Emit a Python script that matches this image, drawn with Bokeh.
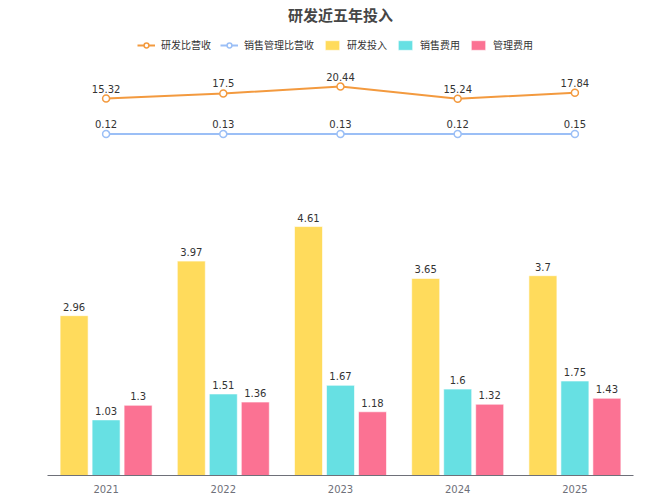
from bokeh.plotting import figure
from bokeh.models import ColumnDataSource, Range1d, FactorRange, LabelSet, Legend, LegendItem
from bokeh.core.properties import value
from bokeh.transform import dodge
from bokeh.embed import file_html
from bokeh.resources import INLINE

years = ["2021", "2022", "2023", "2024", "2025"]
rd_ratio = [15.32, 17.5, 20.44, 15.24, 17.84]
sm_ratio = [0.12, 0.13, 0.13, 0.12, 0.15]
rd_invest = [2.96, 3.97, 4.61, 3.65, 3.7]
sales_exp = [1.03, 1.51, 1.67, 1.6, 1.75]
mgmt_exp = [1.3, 1.36, 1.18, 1.32, 1.43]

def fmt(v):
    return ("%g" % v)

src = ColumnDataSource(dict(
    year=years,
    rd_ratio=rd_ratio, sm_ratio=sm_ratio,
    rd_invest=rd_invest, sales_exp=sales_exp, mgmt_exp=mgmt_exp,
    rd_ratio_t=[fmt(v) for v in rd_ratio],
    sm_ratio_t=[fmt(v) for v in sm_ratio],
    rd_invest_t=[fmt(v) for v in rd_invest],
    sales_exp_t=[fmt(v) for v in sales_exp],
    mgmt_exp_t=[fmt(v) for v in mgmt_exp],
))

FONT = "DejaVu Sans"
CJK = "Noto Sans CJK SC"

WIDTH, HEIGHT = 667, 500
TOP = 24
BOT = 25
FH = HEIGHT - TOP - BOT
# frame spans page y TOP..475; bars: 54 px per unit; lines: zero at y=133.9, 2.34 px per unit
LINE_START = -(HEIGHT - BOT - 133.9) / 2.34

p = figure(x_range=FactorRange(factors=years), y_range=Range1d(0, FH / 54.0),
           width=WIDTH, height=HEIGHT,
           min_border_left=47, min_border_right=34, min_border_top=TOP, min_border_bottom=BOT,
           y_axis_location=None, output_backend="svg", toolbar_location=None,
           title="研发近五年投入")
p.extra_y_ranges = {"line": Range1d(LINE_START, LINE_START + FH / 2.34)}
p.outline_line_color = None
p.xgrid.grid_line_color = None
p.ygrid.grid_line_color = None
p.background_fill_color = "white"
p.border_fill_color = "white"

p.title.align = "center"
p.title.text_font = CJK
p.title.text_font_size = "15px"
p.title.text_font_style = "bold"
p.title.text_color = "#464646"
p.title.standoff = 0
p.title.offset = 0

ax = p.xaxis[0]
ax.axis_line_color = "#6e7079"
ax.major_tick_line_color = None
ax.minor_tick_line_color = None
ax.major_label_text_font = FONT
ax.major_label_text_font_size = "10px"
ax.major_label_text_color = "#6e7079"
ax.major_label_standoff = 3

YEL, CYA, PNK = "#ffdb5c", "#67e0e3", "#fb7293"
ORG, BLU = "#f39a3f", "#9bbff6"
W = 0.239
OFF = 0.273

b1 = p.vbar(x=dodge("year", -OFF, range=p.x_range), top="rd_invest", width=W, source=src,
            fill_color=YEL, line_color="white", line_alpha=0.6, line_width=1)
b2 = p.vbar(x=dodge("year", 0, range=p.x_range), top="sales_exp", width=W, source=src,
            fill_color=CYA, line_color="white", line_alpha=0.6, line_width=1)
b3 = p.vbar(x=dodge("year", OFF, range=p.x_range), top="mgmt_exp", width=W, source=src,
            fill_color=PNK, line_color="white", line_alpha=0.6, line_width=1)

l1 = p.line(x="year", y="rd_ratio", source=src, line_color=ORG, line_width=2, y_range_name="line")
s1 = p.scatter(x="year", y="rd_ratio", source=src, size=7, fill_color="white", line_color=ORG,
               line_width=1.5, y_range_name="line")
l2 = p.line(x="year", y="sm_ratio", source=src, line_color=BLU, line_width=2, y_range_name="line")
s2 = p.scatter(x="year", y="sm_ratio", source=src, size=7, fill_color="white", line_color=BLU,
               line_width=1.5, y_range_name="line")

def labels(xoff, yfield, tfield, yr="default", yo=5):
    ls = LabelSet(x=dodge("year", xoff, range=p.x_range), y=yfield, text=tfield, source=src,
                  y_range_name=yr, y_offset=yo, text_align="center", text_baseline="bottom",
                  text_font=value(FONT), text_font_size=value("10px"),
                  text_color=value("#333333"))
    p.add_layout(ls)

labels(-OFF, "rd_invest", "rd_invest_t")
labels(0, "sales_exp", "sales_exp_t")
labels(OFF, "mgmt_exp", "mgmt_exp_t")
labels(0, "rd_ratio", "rd_ratio_t", "line", 6)
labels(0, "sm_ratio", "sm_ratio_t", "line", 6)

legend = Legend(items=[
    LegendItem(label="研发比营收", renderers=[l1, s1]),
    LegendItem(label="销售管理比营收", renderers=[l2, s2]),
    LegendItem(label="研发投入", renderers=[b1]),
    LegendItem(label="销售费用", renderers=[b2]),
    LegendItem(label="管理费用", renderers=[b3]),
], orientation="horizontal", location=(90, FH - 28),
    glyph_width=18, glyph_height=12, label_standoff=6, spacing=9, padding=0, margin=0,
    label_text_font=CJK, label_text_font_size="10px", label_text_color="#333333",
    border_line_color=None, background_fill_alpha=0)
p.add_layout(legend)

open("out.html", "w").write(file_html(p, INLINE))
